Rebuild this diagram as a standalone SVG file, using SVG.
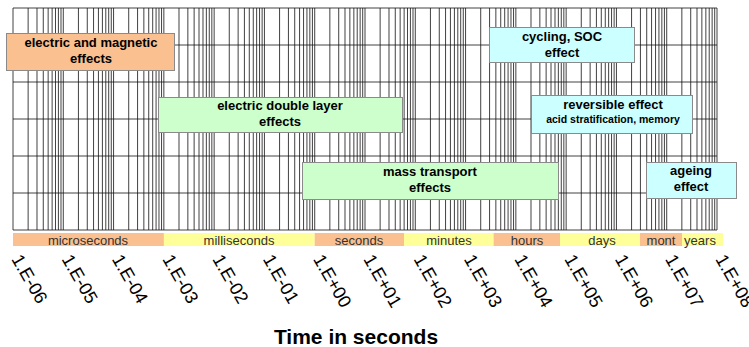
<svg xmlns="http://www.w3.org/2000/svg" xmlns:xlink="http://www.w3.org/1999/xlink" width="749" height="347" viewBox="0 0 749 347">
<style>
.gl{stroke:#111;stroke-width:0.8;fill:none}
.box{stroke:#8a8a8a;stroke-width:1}
.or{fill:#fac090}
.ye{fill:#ffff99}
.gr{fill:#ccffcc}
.cy{fill:#ccffff}
.bt{font-family:"Liberation Sans",Arial,sans-serif;font-weight:bold;font-size:13px;fill:#000;text-anchor:middle}
.st{font-family:"Liberation Sans",Arial,sans-serif;font-weight:bold;font-size:10.5px;fill:#000;text-anchor:middle}
.band{font-family:"Liberation Sans",Arial,sans-serif;font-size:13px;fill:#333;text-anchor:middle}
.ax{font-family:"Liberation Sans",Arial,sans-serif;font-size:18px;fill:#000}
.title{font-family:"Liberation Sans",Arial,sans-serif;font-weight:bold;font-size:21px;fill:#000;text-anchor:middle}
</style>
<defs>
<g id="dec">
<line class="gl" x1="0" y1="8" x2="0" y2="230"/>
<line class="gl" x1="15.138" y1="8" x2="15.138" y2="230"/>
<line class="gl" x1="23.993" y1="8" x2="23.993" y2="230"/>
<line class="gl" x1="30.275" y1="8" x2="30.275" y2="230"/>
<line class="gl" x1="35.148" y1="8" x2="35.148" y2="230"/>
<line class="gl" x1="39.130" y1="8" x2="39.130" y2="230"/>
<line class="gl" x1="42.496" y1="8" x2="42.496" y2="230"/>
<line class="gl" x1="45.413" y1="8" x2="45.413" y2="230"/>
<line class="gl" x1="47.986" y1="8" x2="47.986" y2="230"/>
</g>
</defs>
<rect width="749" height="347" fill="#fff"/>
<g id="grid">
<use xlink:href="#dec" x="13"/>
<use xlink:href="#dec" x="63.286"/>
<use xlink:href="#dec" x="113.571"/>
<use xlink:href="#dec" x="163.857"/>
<use xlink:href="#dec" x="214.143"/>
<use xlink:href="#dec" x="264.429"/>
<use xlink:href="#dec" x="314.714"/>
<use xlink:href="#dec" x="365"/>
<use xlink:href="#dec" x="415.286"/>
<use xlink:href="#dec" x="465.571"/>
<use xlink:href="#dec" x="515.857"/>
<use xlink:href="#dec" x="566.143"/>
<use xlink:href="#dec" x="616.429"/>
<use xlink:href="#dec" x="666.714"/>
<line class="gl" x1="717" y1="8" x2="717" y2="230"/>
<line class="gl" x1="13" y1="8" x2="717" y2="8"/>
<line class="gl" x1="13" y1="45" x2="717" y2="45"/>
<line class="gl" x1="13" y1="82" x2="717" y2="82"/>
<line class="gl" x1="13" y1="119" x2="717" y2="119"/>
<line class="gl" x1="13" y1="156" x2="717" y2="156"/>
<line class="gl" x1="13" y1="193" x2="717" y2="193"/>
<line class="gl" x1="13" y1="230" x2="717" y2="230"/>
</g>
<g id="band">
<rect class="or" x="13" y="233" width="150.9" height="13"/>
<rect class="ye" x="163.9" y="233" width="150.8" height="13"/>
<rect class="or" x="314.7" y="233" width="89.3" height="13"/>
<rect class="ye" x="404" y="233" width="89.6" height="13"/>
<rect class="or" x="493.6" y="233" width="66.4" height="13"/>
<rect class="ye" x="560" y="233" width="80" height="13"/>
<rect class="or" x="640" y="233" width="42" height="13"/>
<rect class="ye" x="682" y="233" width="41" height="13"/>
<text class="band" x="88" y="244.5">microseconds</text>
<text class="band" x="239" y="244.5">milliseconds</text>
<text class="band" x="359" y="244.5">seconds</text>
<text class="band" x="449" y="244.5">minutes</text>
<text class="band" x="527" y="244.5">hours</text>
<text class="band" x="602" y="244.5">days</text>
<text class="band" x="661" y="244.5">mont</text>
<text class="band" x="700" y="244.5">years</text>
</g>
<g id="node-electric-magnetic">
<rect class="box or" x="6.5" y="33.5" width="168" height="37"/>
<text class="bt" x="91" y="47">electric and magnetic</text>
<text class="bt" x="91" y="63">effects</text>
</g>
<g id="node-double-layer">
<rect class="box gr" x="158.5" y="97.5" width="244" height="35"/>
<text class="bt" x="280" y="110">electric double layer</text>
<text class="bt" x="280" y="126">effects</text>
</g>
<g id="node-mass-transport">
<rect class="box gr" x="302.5" y="162.5" width="256" height="37"/>
<text class="bt" x="430" y="176">mass transport</text>
<text class="bt" x="430" y="192">effects</text>
</g>
<g id="node-cycling">
<rect class="box cy" x="489.5" y="27.5" width="145" height="35"/>
<text class="bt" x="562" y="41">cycling, SOC</text>
<text class="bt" x="562" y="57">effect</text>
</g>
<g id="node-reversible">
<rect class="box cy" x="531.5" y="95.5" width="161" height="38"/>
<text class="bt" x="613" y="109">reversible effect</text>
<text class="st" x="613" y="123">acid stratification, memory</text>
</g>
<g id="node-ageing">
<rect class="box cy" x="646.5" y="162.5" width="90" height="36"/>
<text class="bt" x="691" y="175">ageing</text>
<text class="bt" x="691" y="191">effect</text>
</g>
<g id="axis-labels">
<text class="ax" transform="translate(11,259) rotate(60)">1.E-06</text>
<text class="ax" transform="translate(61.3,259) rotate(60)">1.E-05</text>
<text class="ax" transform="translate(111.6,259) rotate(60)">1.E-04</text>
<text class="ax" transform="translate(161.9,259) rotate(60)">1.E-03</text>
<text class="ax" transform="translate(212.1,259) rotate(60)">1.E-02</text>
<text class="ax" transform="translate(262.4,259) rotate(60)">1.E-01</text>
<text class="ax" transform="translate(312.7,259) rotate(60)">1.E+00</text>
<text class="ax" transform="translate(363,259) rotate(60)">1.E+01</text>
<text class="ax" transform="translate(413.3,259) rotate(60)">1.E+02</text>
<text class="ax" transform="translate(463.6,259) rotate(60)">1.E+03</text>
<text class="ax" transform="translate(513.9,259) rotate(60)">1.E+04</text>
<text class="ax" transform="translate(564.1,259) rotate(60)">1.E+05</text>
<text class="ax" transform="translate(614.4,259) rotate(60)">1.E+06</text>
<text class="ax" transform="translate(664.7,259) rotate(60)">1.E+07</text>
<text class="ax" transform="translate(715,259) rotate(60)">1.E+08</text>
</g>
<text id="axis-title" class="title" x="356" y="344">Time in seconds</text>
</svg>
